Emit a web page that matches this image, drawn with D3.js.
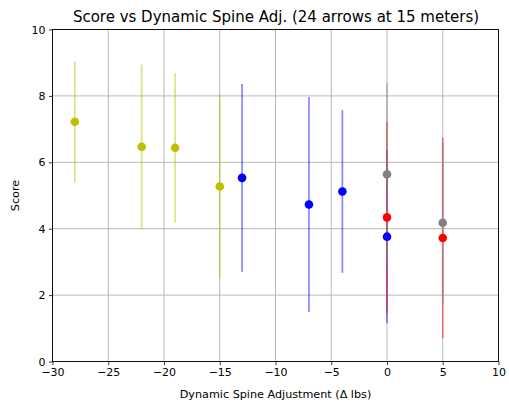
<!DOCTYPE html>
<html><head><meta charset="utf-8">
<script src="https://cdn.jsdelivr.net/npm/d3@7"></script>
<style>body{margin:0;background:#fff}svg{display:block}text{font-family:"DejaVu Sans",sans-serif;fill:#000}</style>
</head><body><svg id="c" width="509" height="404"></svg>
<script>
// Data
const yellowX = [-28, -22, -19, -15];
const yellowY = [7.22, 6.47, 6.44, 5.27];
const yellowErr = [1.82, 2.47, 2.25, 2.77];
const blueX = [-13, -7, -4, 0];
const blueY = [5.53, 4.73, 5.12, 3.76];
const blueErr = [2.83, 3.24, 2.45, 2.61];
const redX = [0, 5];
const redY = [4.34, 3.72];
const redErr = [2.88, 3.02];
const grayX = [0, 5];
const grayY = [5.64, 4.18];
const grayErr = [2.74, 2.41];
const xTicks = [-30, -25, -20, -15, -10, -5, 0, 5, 10];
const yTicks = [0, 2, 4, 6, 8, 10];

const series = [
  {x: yellowX, y: yellowY, e: yellowErr, c: "#bfbf00"},
  {x: blueX, y: blueY, e: blueErr, c: "#0000ff"},
  {x: redX, y: redY, e: redErr, c: "#ff0000"},
  {x: grayX, y: grayY, e: grayErr, c: "#808080"}
];

const L = 52.5, R = 498.5, T = 29.5, B = 361.5;
const svg = d3.select("#c");
const x = d3.scaleLinear().domain([-30, 10]).range([L, R]);
const y = d3.scaleLinear().domain([0, 10]).range([B, T]);

// grid
const g = svg.append("g");
g.selectAll(".gx").data(xTicks).enter().append("line")
  .attr("x1", d => x(d)).attr("x2", d => x(d)).attr("y1", T).attr("y2", B)
  .attr("stroke", "#b0b0b0").attr("stroke-width", 0.9);
g.selectAll(".gy").data(yTicks).enter().append("line")
  .attr("y1", d => y(d)).attr("y2", d => y(d)).attr("x1", L).attr("x2", R)
  .attr("stroke", "#b0b0b0").attr("stroke-width", 0.9);

// error bars then points, per series
series.forEach(s => {
  const pts = s.x.map((v, i) => ({x: v, y: s.y[i], e: s.e[i]}));
  svg.append("g").selectAll("line").data(pts).enter().append("line")
    .attr("x1", d => x(d.x)).attr("x2", d => x(d.x))
    .attr("y1", d => y(d.y - d.e)).attr("y2", d => y(d.y + d.e))
    .attr("stroke", s.c).attr("stroke-opacity", 0.5).attr("stroke-width", 1.6);
});
series.forEach(s => {
  const pts = s.x.map((v, i) => ({x: v, y: s.y[i]}));
  svg.append("g").selectAll("circle").data(pts).enter().append("circle")
    .attr("cx", d => x(d.x)).attr("cy", d => y(d.y)).attr("r", 4.3)
    .attr("fill", s.c);
});

// axes
const fmt = d => d < 0 ? "\u2212" + Math.abs(d) : String(d);
const xa = svg.append("g").attr("transform", `translate(0,${B})`)
  .call(d3.axisBottom(x).tickValues(xTicks).tickFormat(fmt).tickSize(3.5).tickPadding(3.5));
const ya = svg.append("g").attr("transform", `translate(${L},0)`)
  .call(d3.axisLeft(y).tickValues(yTicks).tickFormat(fmt).tickSize(3.5).tickPadding(3.5));
[xa, ya].forEach(a => {
  a.select(".domain").remove();
  a.selectAll("text").attr("font-size", 11).attr("font-family", "DejaVu Sans").attr("fill", "#000");
  a.selectAll("line").attr("stroke", "#000").attr("stroke-width", 0.8);
});
svg.append("rect").attr("x", L).attr("y", T).attr("width", R - L).attr("height", B - T)
  .attr("fill", "none").attr("stroke", "#000").attr("stroke-width", 0.9);

svg.append("text").attr("x", (L + R) / 2 + 0.5).attr("y", 21.5).attr("text-anchor", "middle")
  .attr("font-size", 15).text("Score vs Dynamic Spine Adj. (24 arrows at 15 meters)");
svg.append("text").attr("x", (L + R) / 2).attr("y", 398).attr("text-anchor", "middle")
  .attr("font-size", 11.2).text("Dynamic Spine Adjustment (\u0394 lbs)");
svg.append("text").attr("transform", `translate(19,${(T + B) / 2}) rotate(-90)`).attr("text-anchor", "middle")
  .attr("font-size", 11.2).text("Score");
</script></body></html>
